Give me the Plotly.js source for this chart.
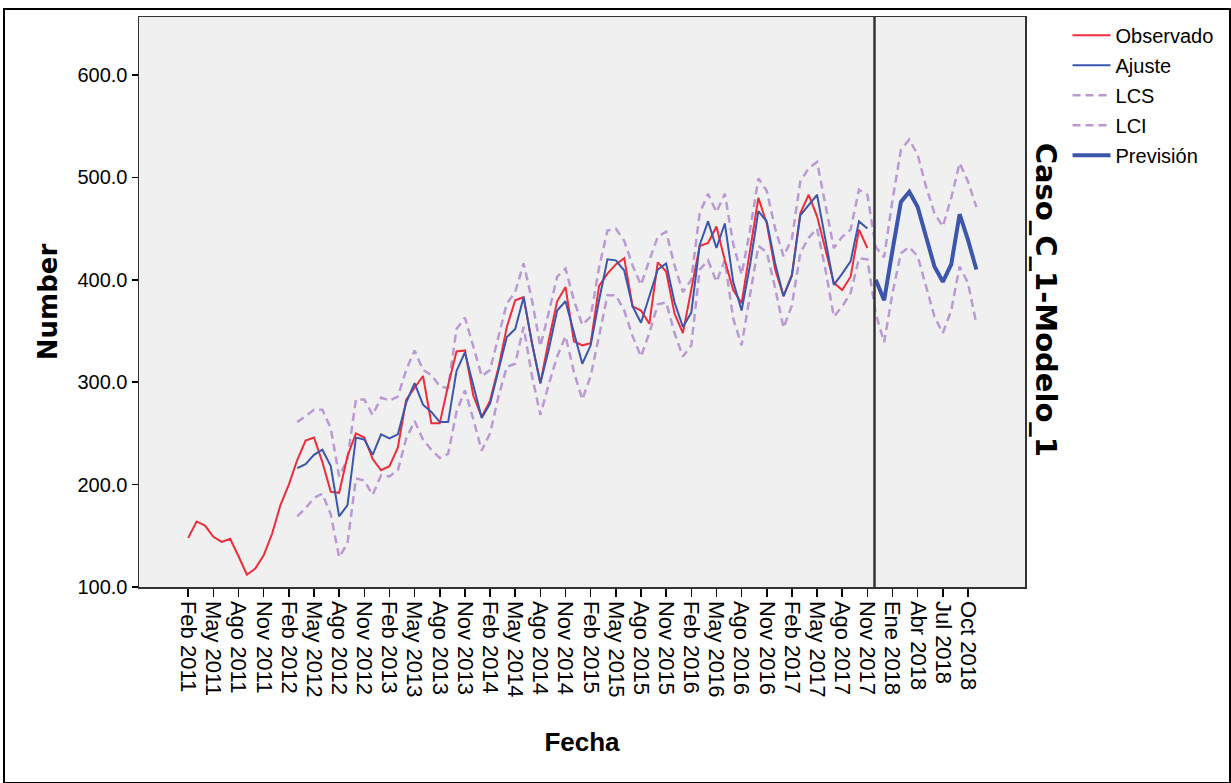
<!DOCTYPE html>
<html>
<head>
<meta charset="utf-8">
<script src="https://cdn.plot.ly/plotly-3.0.1.min.js"></script>
<style>
  html, body { margin: 0; padding: 0; background: #ffffff; }
  #wrap { position: relative; width: 1231px; height: 783px; }
  #chart { width: 1231px; height: 783px; }
  #frame { position: absolute; left: 3px; top: 8px; width: 1224px; height: 772px;
           border: 2px solid #000; pointer-events: none; }
</style>
</head>
<body>
<div id="wrap">
  <div id="chart"></div>
  <div id="frame"></div>
</div>
<script>
// ---- data (monthly index 0 = Feb 2011) ----
const obsStart = 0;
const observado = [148,164,160,149,144,147,130,112,118,131,
  152,180,200,224,243,246,222,193,192,228,
  250,246,225,214,218,236,283,294,306,260,
  260,297,330,331,287,266,282,314,354,380,
  383,338,299,341,379,393,340,336,338,394,
  406,415,421,374,370,357,417,408,367,348,
  390,433,436,452,419,390,377,429,480,455,
  410,384,405,465,483,462,429,397,390,403,
  449,431];

const fitStart = 13;
const ajuste = [216,220,229,234,218,169,180,
  246,244,229,249,245,249,280,299,278,271,
  261,261,311,329,297,265,279,312,344,352,
  383,338,299,332,370,379,348,318,336,380,
  420,419,409,374,358,384,410,416,378,354,
  368,434,457,431,455,398,370,414,467,457,
  416,384,404,463,473,483,439,395,406,418,
  457,450];

const bandStart = 13;
const lcs = [261,267,273,273,255,208,225,
  283,283,268,285,282,286,312,331,312,307,
  296,294,352,363,335,306,312,344,377,388,
  416,380,335,368,403,411,380,356,364,412,
  448,450,438,414,395,419,442,447,414,388,
  400,465,484,466,484,435,405,448,499,487,
  450,423,440,496,509,515,472,431,442,449,
  488,483,
  432,422,478,527,537,522,491,465,452,480,514,496,471];
const lci = [169,177,187,191,171,129,143,
  206,204,190,209,208,214,245,262,244,234,
  226,230,271,292,264,233,250,286,315,318,
  354,306,268,298,325,345,310,283,306,345,
  385,385,370,345,325,348,376,378,348,325,
  336,410,419,398,419,362,336,385,433,427,
  392,353,375,426,441,450,410,364,374,387,
  421,420,
  367,339,387,426,432,423,393,364,348,370,413,397,357];

const fcstStart = 82;
const prevision = [400,380,429,476,486,471,442,413,398,415,464,439,410];

const tickLabels = ["Feb 2011","May 2011","Ago 2011","Nov 2011",
  "Feb 2012","May 2012","Ago 2012","Nov 2012",
  "Feb 2013","May 2013","Ago 2013","Nov 2013",
  "Feb 2014","May 2014","Ago 2014","Nov 2014",
  "Feb 2015","May 2015","Ago 2015","Nov 2015",
  "Feb 2016","May 2016","Ago 2016","Nov 2016",
  "Feb 2017","May 2017","Ago 2017","Nov 2017",
  "Ene 2018","Abr 2018","Jul 2018","Oct 2018"];
const tickStep = 3;
const yTicks = [100,200,300,400,500,600];

// ---- build ----
const idx = (arr, start) => arr.map((_, k) => k + start);
const tickVals = tickLabels.map((_, k) => k * tickStep);

const RED = '#ee2c3a', BLUE = '#3c56ad', LAV = '#b99ad3';
const FONT = 'Liberation Sans, Arial, sans-serif';

const traces = [
  {x: idx(lcs, bandStart), y: lcs, name: 'LCS', mode: 'lines', legendrank: 3, legendgroup: 'c',
   line: {color: LAV, width: 2.5, dash: '8px,5px'}},
  {x: idx(lci, bandStart), y: lci, name: 'LCI', mode: 'lines', legendrank: 4, legendgroup: 'd',
   line: {color: LAV, width: 2.5, dash: '8px,5px'}},
  {x: idx(observado, obsStart), y: observado, name: 'Observado', mode: 'lines', legendrank: 1, legendgroup: 'a',
   line: {color: RED, width: 2}},
  {x: idx(ajuste, fitStart), y: ajuste, name: 'Ajuste', mode: 'lines', legendrank: 2, legendgroup: 'b',
   line: {color: BLUE, width: 2}},
  {x: idx(prevision, fcstStart), y: prevision, name: 'Previsión', mode: 'lines', legendrank: 5, legendgroup: 'e',
   line: {color: BLUE, width: 4}}
];

const layout = {
  width: 1231, height: 783,
  paper_bgcolor: '#ffffff', plot_bgcolor: '#f0f0f0',
  margin: {l: 139, r: 201, t: 17, b: 196},
  font: {family: FONT, size: 20, color: '#000'},
  showlegend: true,
  legend: {x: 1.048, y: 1.002, xanchor: 'left', yanchor: 'top',
           font: {family: FONT, size: 20, color: '#000'},
           itemwidth: 38, tracegroupgap: 1, bgcolor: 'rgba(0,0,0,0)'},
  xaxis: {
    range: [-5.87, 99.8], tickmode: 'array', tickvals: tickVals, ticktext: tickLabels,
    tickangle: 90, ticks: 'outside', ticklen: 8, tickwidth: 1.5, tickcolor: '#000',
    tickfont: {family: FONT, size: 22, color: '#000'},
    showgrid: false, zeroline: false, showline: true, mirror: true,
    linecolor: '#333', linewidth: 1.5,
    title: {text: 'Fecha', standoff: 36,
            font: {family: FONT, size: 26, color: '#000', weight: 'bold'}}
  },
  yaxis: {
    range: [100, 656.6], tickmode: 'array', tickvals: yTicks, tickformat: '.1f',
    ticks: 'outside', ticklen: 6, tickwidth: 1.5, tickcolor: '#000',
    tickfont: {family: FONT, size: 20, color: '#000'},
    showgrid: false, zeroline: false, showline: true, mirror: true,
    linecolor: '#333', linewidth: 1.5,
    title: {text: 'Number', standoff: 12,
            font: {family: 'DejaVu Sans, sans-serif', size: 26, color: '#000', weight: 'bold'}}
  },
  shapes: [
    {type: 'line', xref: 'x', yref: 'paper', x0: 81.85, x1: 81.85, y0: 0, y1: 1,
     line: {color: '#333', width: 2.5}}
  ],
  annotations: [
    {text: 'Caso_C_1-Modelo_1', xref: 'paper', yref: 'paper', x: 1.024, y: 0.5035,
     xanchor: 'center', yanchor: 'middle', textangle: 90, showarrow: false,
     font: {family: 'DejaVu Sans, sans-serif', size: 29, color: '#000', weight: 'bold'}}
  ]
};

Plotly.newPlot('chart', traces, layout, {displayModeBar: false, staticPlot: true});
</script>
</body>
</html>
